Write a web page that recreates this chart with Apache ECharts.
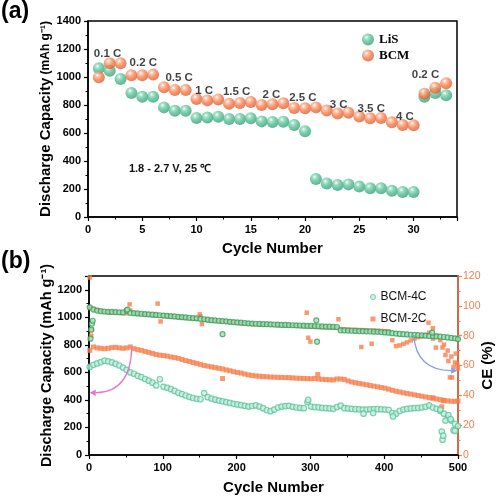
<!DOCTYPE html>
<html><head><meta charset="utf-8">
<script src="https://cdn.jsdelivr.net/npm/echarts@6/dist/echarts.min.js"></script>
<style>html,body{margin:0;padding:0;background:#fff}#c{width:496px;height:497px}</style>
</head><body><div id="c"></div>
<script>
// ---------- Panel (a): rate capability ----------
const rateCycles = [1,2,3,4,5,6,7,8,9,10,11,12,13,14,15,16,17,18,19,20,21,22,23,24,25,26,27,28,29,30,31,32,33];
const lisValues = [1062,1045,986,886,859,859,783,759,759,707,710,716,700,700,705,683,679,681,657,612,271,240,229,233,217,205,205,188,179,179,859,886,869];
const bcmValues = [998,1098,1098,1012,1012,1017,926,907,907,843,833,840,809,814,822,800,805,812,779,776,783,760,740,745,717,705,707,676,657,655,881,924,955];
const rateLabels = ['0.1 C','0.2 C','0.5 C','1 C','1.5 C','2 C','2.5 C','3 C','3.5 C','4 C','0.2 C'];
const rateLabelX = [1.8,5.1,8.4,10.7,13.7,16.9,19.8,23.1,26.1,29.2,31.1];
const rateLabelY = [1169,1102,993,902,895,876,848,798,771,719,1012];

// ---------- Panel (b): long cycling ----------
const sampleCycles = [1,6,11,16,21,26,31,36,41,46,51,56,61,66,71,76,81,86,91,96,
101,106,111,116,121,126,131,136,141,146,151,156,161,166,171,176,181,186,191,196,
201,206,211,216,221,226,231,236,241,246,251,256,261,266,271,276,281,286,291,296,
301,306,311,316,321,326,331,336,341,346,351,356,361,366,371,376,381,386,391,396,
401,406,411,416,421,426,431,436,441,446,451,456,461,466,471,476,481,486,491,496,500];
const capB2 = [760,785,778,775,772,775,780,782,778,775,778,785,772,765,760,752,745,738,730,725,
722,718,712,708,702,694,686,680,672,665,658,650,645,640,635,630,625,618,612,605,
600,595,588,582,578,574,572,570,568,566,565,564,563,562,562,560,558,557,556,555,
554,556,552,550,548,546,545,552,552,548,538,530,525,520,515,510,505,500,495,490,
485,478,470,463,458,452,447,442,437,432,427,422,417,412,407,402,397,393,390,390,392];
const capB4 = [640,655,665,675,685,680,672,662,650,635,618,600,590,575,565,552,540,525,505,550,
495,488,478,465,452,442,432,422,414,408,405,450,420,410,402,395,390,384,378,372,
367,362,357,352,356,360,352,340,325,318,330,345,352,355,357,350,345,342,340,385,
352,348,346,342,340,338,335,348,358,340,338,335,333,332,330,330,332,333,333,332,
330,328,305,300,320,330,335,338,340,342,345,350,360,345,335,320,300,270,250,225,210];
const ceB4 = [99,97.5,96.8,96.4,96.2,96,95.9,95.8,95.7,95.6,96.8,95.3,95.1,94.9,94.7,94.5,94.3,94.1,93.9,93.7,
93.5,93.3,93.1,92.9,92.6,92.4,92.2,92,91.8,91.6,91.3,91,90.7,90.4,90.2,90,89.8,89.6,89.3,89.1,
88.9,88.7,88.5,88.3,88.1,88,87.9,87.8,87.7,87.6,87.5,87.4,87.3,87.2,87.1,87,86.9,86.8,86.7,86.6,
86.5,86.4,86.3,86.2,86.1,86,85.9,85.8,83.6,83.5,83.4,83.3,83.2,83.1,83,82.9,82.8,82.7,82.6,82.4,
82.2,82,81.7,81.4,81.2,81,80.8,80.6,80.5,80.3,80.2,80,79.8,79.7,79.5,79.3,79.1,78.8,78.5,78.2,77.7];
const ceB2 = [99,98,97.2,96.5,96,95.8,95.6,95.5,95.3,95.2,95,96.8,94.8,94.6,94.4,94.2,94,93.8,93.6,93.4,
93.2,93,92.8,92.6,92.3,92.1,91.9,91.7,91.5,91.3,93,90.7,90.4,90.1,89.9,89.7,89.5,89.3,89,88.8,
88.6,88.4,88.2,88,87.8,87.7,87.6,87.5,87.4,87.3,87.2,87.1,87,86.9,86.8,86.7,86.6,86.5,86.4,86.3,
86.1,85.9,85.8,85.7,85.6,85.5,85.4,85.3,84.5,84.3,84.1,84,83.9,83.8,83.7,83.6,83.5,83.4,83.3,83.2,
83,82.8,77,73,73.5,74.5,75.5,76.8,78,79,79.5,80.5,82,78,80,77,74,70,66,62,58];
// scattered outlier points [cycle, value]
const capB2Extra = [[181,555],[310,585],[466,415],[478,350],[480,395]];
const capB4Extra = [[297,400],[372,300],[385,305],[412,280],[476,330],[478,170],[479,110],[480,140],[483,250],[487,290],[490,260],[494,180],[496,175]];
const ceB2Extra = [[1,119],[3,80],[4,84],[55,101],[93,101.5],[97,89.5],[150,94.3],[153,87.8],[295,95.4],[297,78.6],[300,76],[338,91],[369,72.4],[383,74.6],[460,88.7],[466,85],[470,72],[479,72],[483,67],[487,63],[489,52],[492,52],[494,59],[497,68],[499,61]];
const ceB4Extra = [[2,78],[3,84],[4,88],[5,90],[52,97.5],[181,81],[308,90.3],[309,76],[465,82]];

const zip = (xs, ys) => xs.map((x, i) => [x, ys[i]]);
const FONT = 'Liberation Sans, Arial, sans-serif';
const ORANGE = '#f47d4f';
const sphere = (c0, c1, c2) => ({type:'radial', x:0.38, y:0.32, r:0.7,
  colorStops:[{offset:0,color:'#ffffff'},{offset:0.22,color:c0},{offset:0.55,color:c1},{offset:1,color:c2}]});

const chart = echarts.init(document.getElementById('c'), null, {renderer:'canvas'});
const axisLineBlack = {show:true, lineStyle:{color:'#000', width:1.5}};
const plain = v => String(v);
const tickLbl = {color:'#000', fontFamily:FONT, fontWeight:'bold', fontSize:11, margin:7, formatter:plain};

chart.setOption({
  animation:false,
  grid:[
    {left:88, top:21, width:369, height:196, show:true, borderColor:'#000', borderWidth:1.5, containLabel:false, outerBoundsMode:'none'},
    {left:89, top:276, width:369, height:179, show:true, borderColor:'#000', borderWidth:1.5, containLabel:false, outerBoundsMode:'none'}
  ],
  legend:[
    {data:['LiS','BCM'], left:357, top:28, orient:'vertical', itemWidth:12, itemHeight:12, itemGap:3,
     icon:'circle', textStyle:{fontFamily:'Liberation Serif, Times New Roman, serif', fontWeight:'bold', fontSize:13, color:'#000'}},
    {data:[{name:'BCM-4C', icon:'circle'}, {name:'BCM-2C', icon:'rect'}], left:365, top:286, orient:'vertical', itemWidth:5, itemHeight:5, itemGap:10,
     itemStyle:{borderWidth:1}, textStyle:{fontFamily:FONT, fontSize:12, color:'#111'}}
  ],
  xAxis:[
    {gridIndex:0, type:'value', min:0, max:34, interval:5, name:'Cycle Number', nameLocation:'middle', nameGap:24, nameMoveOverlap:false,
     nameTextStyle:{fontFamily:FONT, fontWeight:'bold', fontSize:15, color:'#000'},
     axisLine:axisLineBlack, axisTick:{show:true, length:4, lineStyle:{color:'#000', width:1.2}},
     minorTick:{show:true, splitNumber:2, length:2.5, lineStyle:{color:'#000'}},
     axisLabel:Object.assign({}, tickLbl, {showMaxLabel:false}), splitLine:{show:false}},
    {gridIndex:1, type:'value', min:0, max:500, interval:100, name:'Cycle Number', nameLocation:'middle', nameGap:25, nameMoveOverlap:false,
     nameTextStyle:{fontFamily:FONT, fontWeight:'bold', fontSize:15, color:'#000'},
     axisLine:axisLineBlack, axisTick:{show:true, length:4, lineStyle:{color:'#000', width:1.2}},
     minorTick:{show:true, splitNumber:2, length:2.5, lineStyle:{color:'#000'}},
     axisLabel:tickLbl, splitLine:{show:false}}
  ],
  yAxis:[
    {gridIndex:0, type:'value', min:0, max:1400, interval:200,
     name:'{a|Discharge Capacity} {b|(mAh g⁻¹)}', nameLocation:'middle', nameGap:35, nameMoveOverlap:false,
     nameTextStyle:{color:'#000', rich:{a:{fontFamily:FONT, fontWeight:'bold', fontSize:15, color:'#000'}, b:{fontFamily:FONT, fontWeight:'bold', fontSize:12, color:'#000'}}},
     axisLine:axisLineBlack, axisTick:{show:true, length:4, lineStyle:{color:'#000', width:1.2}},
     minorTick:{show:true, splitNumber:2, length:2.5, lineStyle:{color:'#000'}},
     axisLabel:tickLbl, splitLine:{show:false}},
    {gridIndex:1, type:'value', min:0, max:1300, interval:200, name:'Discharge Capacity (mAh g⁻¹)', nameLocation:'middle', nameGap:35, nameMoveOverlap:false,
     nameTextStyle:{fontFamily:FONT, fontWeight:'bold', fontSize:14.5, color:'#000'},
     axisLine:axisLineBlack, axisTick:{show:true, length:4, lineStyle:{color:'#000', width:1.2}},
     minorTick:{show:true, splitNumber:2, length:2.5, lineStyle:{color:'#000'}},
     axisLabel:Object.assign({}, tickLbl, {showMaxLabel:false}), splitLine:{show:false}},
    {gridIndex:1, type:'value', position:'right', min:0, max:120, interval:20, name:'CE (%)', nameLocation:'middle', nameGap:22, nameRotate:90, nameMoveOverlap:false,
     nameTextStyle:{fontFamily:FONT, fontWeight:'bold', fontSize:15, color:'#000'},
     axisLine:{show:true, lineStyle:{color:ORANGE, width:1.5}}, axisTick:{show:true, length:4, lineStyle:{color:ORANGE, width:1.2}},
     minorTick:{show:true, splitNumber:2, length:2.5, lineStyle:{color:ORANGE}},
     axisLabel:{color:ORANGE, fontFamily:FONT, fontSize:10.5, margin:5}, splitLine:{show:false}}
  ],
  series:[
    {name:'LiS', type:'scatter', xAxisIndex:0, yAxisIndex:0, symbolSize:12, data:zip(rateCycles, lisValues),
     itemStyle:{color:sphere('#8fdcbc', '#55bd95', '#3a9e78')}},
    {name:'BCM', type:'scatter', xAxisIndex:0, yAxisIndex:0, symbolSize:12, data:zip(rateCycles, bcmValues),
     itemStyle:{color:sphere('#fbb896', '#f47d4f', '#d9602f')}},
    {type:'scatter', xAxisIndex:0, yAxisIndex:0, symbolSize:0, silent:true,
     data:rateLabels.map((t,i)=>({name:t, value:[rateLabelX[i], rateLabelY[i]]})),
     label:{show:true, position:'inside', formatter:p=>p.name, fontFamily:FONT, fontWeight:'bold', fontSize:11.5, color:'#111'}},

    {name:'BCM-2C', type:'scatter', xAxisIndex:1, yAxisIndex:1, symbol:'rect', symbolSize:5, data:zip(sampleCycles, capB2).concat(capB2Extra),
     itemStyle:{color:'#f7804c'}},
    {name:'BCM-4C', type:'scatter', xAxisIndex:1, yAxisIndex:1, symbol:'circle', symbolSize:5.5, data:zip(sampleCycles, capB4).concat(capB4Extra),
     itemStyle:{color:'#c9eedf', borderColor:'#5fc59f', borderWidth:1.2}},
    {name:'BCM-2C', type:'scatter', xAxisIndex:1, yAxisIndex:2, symbol:'rect', symbolSize:4.5, data:zip(sampleCycles, ceB2).concat(ceB2Extra),
     itemStyle:{color:'#f7804c'}},
    {name:'BCM-4C', type:'scatter', xAxisIndex:1, yAxisIndex:2, symbol:'circle', symbolSize:5, data:zip(sampleCycles, ceB4).concat(ceB4Extra),
     itemStyle:{color:'#a8dcb9', borderColor:'#35a260', borderWidth:1.2}}
  ]
});

// annotations (arrows + panel letters) positioned through the axes
const P = (xi, yi, v) => chart.convertToPixel({xAxisIndex:xi, yAxisIndex:yi}, v);
function arrow(a, c, b, color){
  const dx = b[0]-c[0], dy = b[1]-c[1], L = Math.hypot(dx,dy) || 1;
  const ux = dx/L, uy = dy/L, s = 6, w = 3.2;
  const base = [b[0]-ux*s, b[1]-uy*s];
  return [
    {type:'bezierCurve', shape:{x1:a[0], y1:a[1], cpx1:c[0], cpy1:c[1], x2:base[0], y2:base[1]}, style:{stroke:color, lineWidth:1.3, fill:null}, z:100},
    {type:'polygon', shape:{points:[b, [base[0]-uy*w, base[1]+ux*w], [base[0]+uy*w, base[1]-ux*w]]}, style:{fill:color}, z:100}
  ];
}
const pinkA = P(1,1,[58,790]), pinkC = P(1,1,[57,455]), pinkB = P(1,1,[1,452]);
const blueA = P(1,2,[440,80.5]), blueC = P(1,2,[443,57]), blueB = P(1,2,[499,56.5]);
chart.setOption({graphic:[
  {type:'text', left:1, top:0, style:{text:'(a)', font:'bold 23px '+FONT, fill:'#000'}},
  {type:'text', left:1, top:250, style:{text:'(b)', font:'bold 23px '+FONT, fill:'#000'}},
  {type:'text', x:170, y:169, style:{text:'1.8 - 2.7 V, 25 ℃', font:'bold 11px '+FONT, fill:'#111', align:'center', verticalAlign:'middle'}}
].concat(arrow(pinkA, pinkC, pinkB, '#e574d2'), arrow(blueA, blueC, blueB, '#7f9fe0'))});
</script>
</body></html>
